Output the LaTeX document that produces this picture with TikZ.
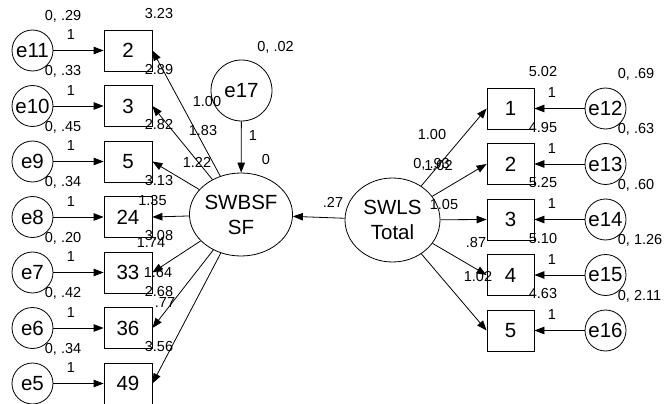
\documentclass[tikz,border=0pt]{standalone}
\usepackage{fontspec}
\setmainfont{Liberation Sans}
\usetikzlibrary{arrows.meta,shapes.geometric}
\begin{document}
\begin{tikzpicture}[x=1pt,y=-1pt,
  line width=0.8pt,
  obs/.style={draw, rectangle, minimum width=48pt, minimum height=41pt, inner sep=0pt, font=\fontsize{20.5}{24}\selectfont},
  err/.style={draw, circle, minimum size=41pt, inner sep=0pt, font=\fontsize{20.5}{24}\selectfont},
  lat/.style={draw, ellipse, minimum width=94pt, minimum height=83pt, inner sep=0pt, align=center, font=\fontsize{20.5}{25}\selectfont},
  lab/.style={inner sep=0pt, font=\fontsize{14.5}{16}\selectfont},
  arr/.style={-{Triangle[length=10pt,width=7.5pt]}}
]
\useasboundingbox[fill=white] (0,0) rectangle (665,404);

% SWBSF indicators with their error terms
\foreach \e/\b/\v/\m [count=\i from 0] in {11/2/.29/3.23, 10/3/.33/2.89, 9/5/.45/2.82, 8/24/.34/3.13, 7/33/.20/3.08, 6/36/.42/2.68, 5/49/.34/3.56} {
  \pgfmathsetmacro\yy{50.5+55.5*\i}
  \node[err] (e\e) at (32.5,\yy) {e\e};
  \node[obs] (L\b) at (128,\yy) {\b};
  \draw[arr] (e\e) -- (L\b);
  \node[lab, anchor=west] (ve\e) at (44.5,\yy-34.5) {0, \v};
  \node[lab] (one\e) at (71,\yy-15.5) {1};
  \node[lab] (mL\b) at (159,\yy-36.5) {\m};
}

% latent SWBSF and its disturbance
\node[lat] (sw) at (241,214.5) {SWBSF\\SF};
\node[err, minimum size=61pt] (e17) at (241.5,90.5) {e17};
\draw[arr] (e17) -- (sw);
\foreach \b in {2,3,5,24,33,36,49} \draw[arr] (sw) -- (L\b.east);

\node[lab, anchor=west] (ve17) at (257,47) {0, .02};
\node[lab] (one17) at (253,136) {1};
\node[lab] (isw) at (266,160) {0};

% loadings of SWBSF
\node[lab] (w2) at (207,102) {1.00};
\node[lab] (w3) at (203,131) {1.83};
\node[lab] (w5) at (197,162) {1.22};
\node[lab] (w24) at (152.5,201) {1.35};
\node[lab] (w33) at (151,243) {1.74};
\node[lab] (w36) at (158,273) {1.64};
\node[lab] (w49) at (165,303) {.77};

% latent SWLS Total
\node[lat, minimum width=95pt, minimum height=84pt] (sl) at (392.5,220) {SWLS\\Total};
\draw[arr] (sl) -- (sw);
\node[lab] (b27) at (333,202) {.27};
\node[lab, anchor=west] (vsl) at (413,164) {0, .93};

% SWLS indicators with their error terms
\foreach \b/\e/\v/\m [count=\i from 0] in {1/12/.69/5.02, 2/13/.63/4.95, 3/14/.60/5.25, 4/15/1.26/5.10, 5/16/2.11/4.63} {
  \pgfmathsetmacro\yy{108.5+55.5*\i}
  \node[obs, minimum width=47pt] (R\b) at (510.5,\yy) {\b};
  \node[err] (e\e) at (605.5,\yy) {e\e};
  \draw[arr] (e\e) -- (R\b);
  \draw[arr] (sl) -- (R\b.west);
  \node[lab, anchor=west] (ve\e) at (617.5,\yy-34.5) {0, \v};
  \node[lab] (one\e) at (552,\yy-15.5) {1};
  \node[lab] (mR\b) at (543,\yy-36.5) {\m};
}

% loadings of SWLS Total
\node[lab] (r1) at (432,135) {1.00};
\node[lab] (r2) at (438.5,166) {1.02};
\node[lab] (r3) at (444,205) {1.05};
\node[lab] (r4) at (476,243) {.87};
\node[lab] (r5) at (478,277) {1.02};
\end{tikzpicture}
\end{document}
